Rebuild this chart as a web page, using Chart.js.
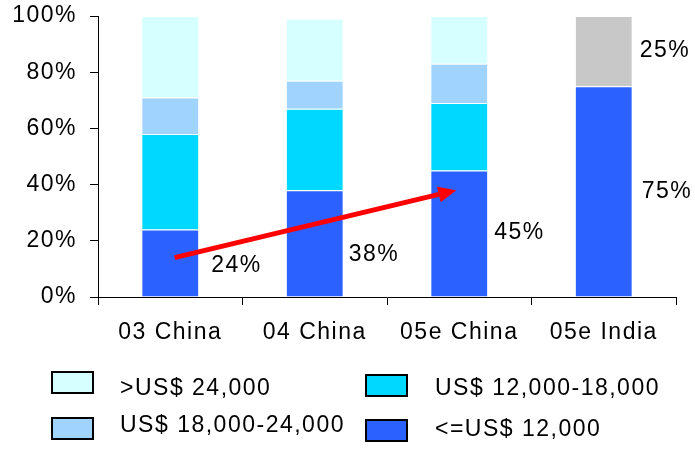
<!DOCTYPE html>
<html>
<head>
<meta charset="utf-8">
<script src="https://cdn.jsdelivr.net/npm/chart.js@4/dist/chart.umd.min.js"></script>
<style>
  html, body { margin: 0; padding: 0; background: #fff; }
  canvas { display: block; }
</style>
</head>
<body>
<canvas id="chart" width="695" height="450"></canvas>
<script>
// Data
const categories = ['03 China', '04 China', '05e China', '05e India'];
const under12k = [24, 38, 45, 75];
const from12to18k = [34, 29, 24, null];
const from18to24k = [13, 10, 14, null];
const over24k = [29, 22, 17, null];
const indiaRest = [null, null, null, 25];
const yTickStep = 20;

// value labels next to the bars: text, category index, y value (in %)
const valueLabels = [
    { text: '24%', cat: 0, y: 11, gap: 12 },
    { text: '38%', cat: 1, y: 15, gap: 5 },
    { text: '45%', cat: 2, y: 23, gap: 6 },
    { text: '75%', cat: 3, y: 37.5, gap: 9 },
    { text: '25%', cat: 3, y: 87.5, gap: 7 }
];

// red trend arrow, in category index / percent units
const arrowFrom = { x: 0.03, y: 14 };
const arrowTo = { x: 1.98, y: 38 };

const FONT = '"Liberation Sans", Arial, sans-serif';
Chart.defaults.font.family = FONT;
Chart.defaults.font.size = 23;
Chart.defaults.color = '#000';

const spacingPlugin = {
    id: 'spacing',
    beforeLayout(chart) { chart.ctx.letterSpacing = '1.5px'; },
    beforeDraw(chart) { chart.ctx.letterSpacing = '1.5px'; }
};

const annotatePlugin = {
    id: 'annotate',
    afterDatasetsDraw(chart) {
        const ctx = chart.ctx;
        const xs = chart.scales.x, ys = chart.scales.y;
        const meta = chart.getDatasetMeta(0);

        // value labels
        ctx.save();
        ctx.letterSpacing = '1.5px';
        ctx.font = '23px ' + FONT;
        ctx.fillStyle = '#000';
        ctx.textAlign = 'left';
        ctx.textBaseline = 'middle';
        valueLabels.forEach(l => {
            const bar = meta.data[l.cat];
            const right = bar.x + bar.width / 2;
            ctx.fillText(l.text, right + l.gap, ys.getPixelForValue(l.y));
        });
        ctx.restore();

        // arrow
        const x1 = xs.getPixelForValue(arrowFrom.x), y1 = ys.getPixelForValue(arrowFrom.y);
        const x2 = xs.getPixelForValue(arrowTo.x), y2 = ys.getPixelForValue(arrowTo.y);
        const ang = Math.atan2(y2 - y1, x2 - x1);
        const headLen = 18, headW = 8;
        const bx = x2 - headLen * Math.cos(ang), by = y2 - headLen * Math.sin(ang);
        ctx.save();
        ctx.strokeStyle = '#ff0000';
        ctx.fillStyle = '#ff0000';
        ctx.lineWidth = 5;
        ctx.beginPath();
        ctx.moveTo(x1, y1);
        ctx.lineTo(bx, by);
        ctx.stroke();
        ctx.beginPath();
        ctx.moveTo(x2, y2);
        ctx.lineTo(bx + headW * Math.sin(ang), by - headW * Math.cos(ang));
        ctx.lineTo(bx - headW * Math.sin(ang), by + headW * Math.cos(ang));
        ctx.closePath();
        ctx.fill();
        ctx.restore();
    },
    afterDraw(chart) {
        // two-column legend as in the original
        const ctx = chart.ctx;
        const ds = chart.data.datasets;
        const items = [
            { ds: ds[3], bx: 52, by: 372, tx: 120, ty: 389 },
            { ds: ds[2], bx: 52, by: 418, tx: 120, ty: 426 },
            { ds: ds[1], bx: 366, by: 375, tx: 435, ty: 389 },
            { ds: ds[0], bx: 366, by: 420, tx: 435, ty: 430 }
        ];
        ctx.save();
        ctx.letterSpacing = '1.5px';
        ctx.font = '23px ' + FONT;
        ctx.textAlign = 'left';
        ctx.textBaseline = 'middle';
        items.forEach(it => {
            ctx.fillStyle = it.ds.backgroundColor;
            ctx.fillRect(it.bx, it.by, 41, 21);
            ctx.lineWidth = 2;
            ctx.strokeStyle = '#000';
            ctx.strokeRect(it.bx, it.by, 41, 21);
            ctx.fillStyle = '#000';
            ctx.fillText(it.ds.label, it.tx, it.ty);
        });
        ctx.restore();
    }
};

function barSet(label, data, color) {
    return {
        label: label,
        data: data,
        backgroundColor: color,
        borderColor: '#ffffff',
        borderWidth: 1,
        barPercentage: 0.4,
        categoryPercentage: 1.0
    };
}

new Chart(document.getElementById('chart'), {
    type: 'bar',
    data: {
        labels: categories,
        datasets: [
            barSet('<=US$ 12,000', under12k, '#2b62ff'),
            barSet('US$ 12,000-18,000', from12to18k, '#00d8ff'),
            barSet('US$ 18,000-24,000', from18to24k, '#a0d4fe'),
            barSet('>US$ 24,000', over24k, '#d6ffff'),
            barSet('India other', indiaRest, '#c8c8c8')
        ]
    },
    options: {
        responsive: false,
        animation: false,
        layout: { padding: { top: 16, right: 19, left: 0, bottom: 103 } },
        plugins: { legend: { display: false }, tooltip: { enabled: false } },
        scales: {
            x: {
                stacked: true,
                grid: { display: true, drawOnChartArea: false, offset: true, tickLength: 8, color: '#000' },
                border: { color: '#000', width: 1 },
                ticks: { padding: 14, color: '#000' },
                afterFit(s) { s.height = 50; s.paddingLeft = 0; s.paddingRight = 0; }
            },
            y: {
                stacked: true,
                min: 0,
                max: 100,
                grid: { display: true, drawOnChartArea: false, tickLength: 8, color: '#000' },
                border: { color: '#000', width: 1 },
                ticks: { stepSize: yTickStep, padding: 13, color: '#000', callback: v => v + '%' },
                afterFit(s) { s.width = 98; s.paddingTop = 0; s.paddingBottom = 0; }
            }
        }
    },
    plugins: [spacingPlugin, annotatePlugin]
});
</script>
</body>
</html>
